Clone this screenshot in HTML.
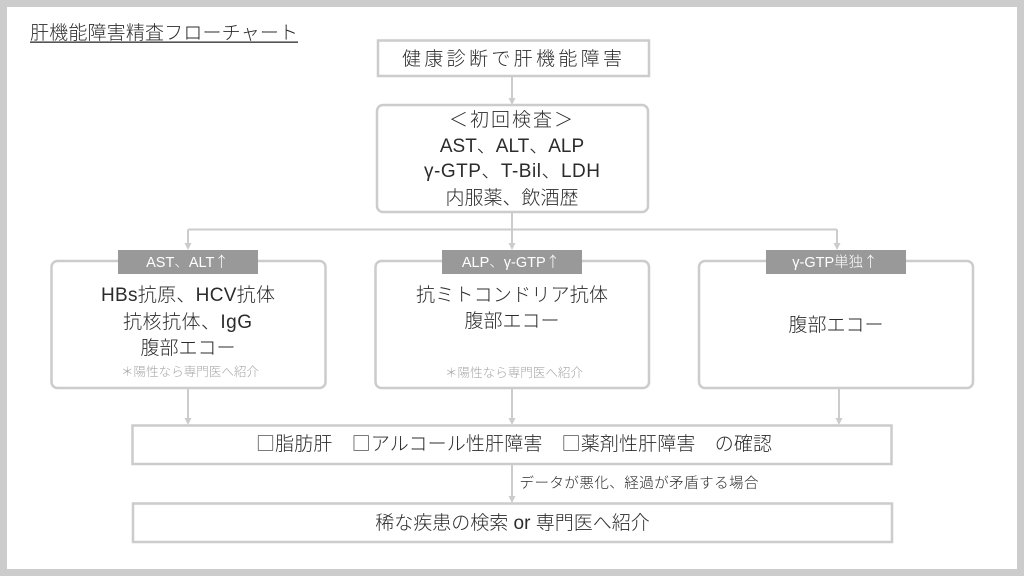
<!DOCTYPE html>
<html lang="ja"><head><meta charset="utf-8"><style>
html,body{margin:0;padding:0;background:#fff}
svg{display:block}
text{font-family:"Liberation Sans","Noto Sans CJK JP",sans-serif;fill:#2b2b2b;font-size:19px;text-anchor:middle;font-weight:300}
.c{font-family:"Noto Sans CJK JP",sans-serif}
.w{fill:#fff;font-size:14.500px}
.n{fill:#a6a6a6;font-size:12.500px}
.l{stroke:#ccc;stroke-width:2;fill:none}
.b{stroke:#ccc;stroke-width:2.500;fill:#fff}
.a{fill:#ccc}
</style></head><body>
<svg width="1024" height="576" viewBox="0 0 1024 576" xmlns="http://www.w3.org/2000/svg">
<rect x="3.500" y="3.500" width="1017" height="569" fill="#fff" stroke="#ccc" stroke-width="7"/>
<text x="30" y="39" style="text-anchor:start" textLength="268">肝機能障害精査フローチャート</text>
<rect x="30" y="41.500" width="268" height="1.300" fill="#2b2b2b"/>

<path class="l" d="M512 76V99M512 212V245M188 229.500H837M188 229.500V245M837 229.500V245M188 388V419M512 388V419M839 388V419M512 464V497"/>
<path class="a" d="M508.500 98h7l-3.500 7zM508.500 243h7l-3.500 7zM184.500 243h7l-3.500 7zM833.500 243h7l-3.500 7zM184.500 418h7l-3.500 7zM508.500 418h7l-3.500 7zM835.500 418h7l-3.500 7zM508.500 496h7l-3.500 7z"/>

<rect class="b" x="378" y="40.500" width="271" height="35.500"/>
<text x="512" y="65" textLength="220">健康診断で肝機能障害</text>

<rect class="b" x="377" y="105" width="271" height="107" rx="6"/>
<text x="511" y="126" textLength="124">＜初回検査＞</text>
<text x="512" y="152">AST、ALT、ALP</text>
<text x="512" y="177" textLength="176">γ-GTP、T-Bil、LDH</text>
<text x="512" y="204">内服薬、飲酒歴</text>

<rect class="b" x="51.500" y="261" width="274" height="127" rx="6"/>
<rect class="b" x="375.500" y="261" width="273.500" height="127" rx="6"/>
<rect class="b" x="699" y="261" width="274" height="127" rx="6"/>

<rect x="118" y="250" width="140" height="24" fill="#999"/>
<rect x="442" y="250" width="140" height="24" fill="#999"/>
<rect x="766" y="250" width="140" height="24" fill="#999"/>
<text class="w" x="187.500" y="267">AST、ALT<tspan class="c">↑</tspan></text>
<text class="w" x="511" y="267">ALP、γ-GTP<tspan class="c">↑</tspan></text>
<text class="w" x="835" y="267">γ-GTP単独<tspan class="c">↑</tspan></text>

<text x="188" y="301" textLength="174">HBs抗原、HCV抗体</text>
<text x="187.500" y="328" textLength="129">抗核抗体、IgG</text>
<text x="188" y="354">腹部エコー</text>
<text class="n" x="190" y="376" textLength="138">＊陽性なら専門医へ紹介</text>

<text x="512" y="301" textLength="192">抗ミトコンドリア抗体</text>
<text x="512" y="327">腹部エコー</text>
<text class="n" x="514" y="377" textLength="138">＊陽性なら専門医へ紹介</text>

<text x="836" y="331">腹部エコー</text>

<rect class="b" x="132.500" y="425.500" width="759" height="38.500"/>
<text x="514" y="450" textLength="516"><tspan class="c">□</tspan>脂肪肝　<tspan class="c">□</tspan>アルコール性肝障害　<tspan class="c">□</tspan>薬剤性肝障害　の確認</text>

<text x="639" y="488" style="font-size:14.500px" textLength="239">データが悪化、経過が矛盾する場合</text>

<rect class="b" x="133" y="503.500" width="759" height="38.500"/>
<text x="512.500" y="529">稀な疾患の検索 or 専門医へ紹介</text>
</svg>
</body></html>
